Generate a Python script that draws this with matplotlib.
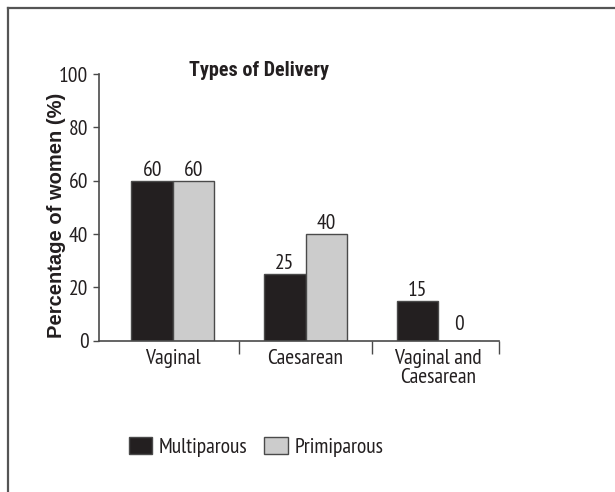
import numpy as np
import matplotlib
matplotlib.use("Agg")
import matplotlib.pyplot as plt
from matplotlib.lines import Line2D

# data
categories = ["Vaginal", "Caesarean", "Vaginal and\nCaesarean"]
multiparous = [60, 25, 15]
primiparous = [60, 40, 0]
series_names = ["Multiparous", "Primiparous"]
yticks = [0, 20, 40, 60, 80, 100]

plt.rcParams["font.family"] = ["PT Sans Narrow", "DejaVu Sans"]
ink = "#231f20"
edge = "#4a4a4a"
fs = 15.5

fig = plt.figure(figsize=(6.15, 4.92), dpi=100)
ax = fig.add_axes([99.5 / 615, 1 - 340.7 / 492, 399.5 / 615, 266.7 / 492])

x = np.arange(len(categories))
w = 0.313
b1 = ax.bar(x - w / 2, multiparous, w, color=ink, edgecolor=edge, linewidth=1)
b2 = ax.bar(x + w / 2, primiparous, w, color="#cccccc", edgecolor=edge, linewidth=1)

# value labels above each bar
for bars, vals in [(b1, multiparous), (b2, primiparous)]:
    for r, v in zip(bars, vals):
        off = 5 if v == 0 else 0.5
        ax.annotate(str(v), (r.get_x() + r.get_width() / 2, v), xytext=(0, off),
                    textcoords="offset points", ha="center", va="bottom",
                    fontsize=fs, color=ink)

xmin, xmax = -0.554, 2.458
ax.set_xlim(xmin, xmax)
ax.set_ylim(0, 100)
ax.set_yticks(yticks)
ax.tick_params(axis="y", length=4, width=1, color=edge, labelsize=fs, pad=4, labelcolor=ink)
ax.set_xticks(x)
ax.set_xticklabels(categories, fontsize=fs, color=ink, linespacing=1.0)
ax.tick_params(axis="x", which="major", length=0, pad=6)
ax.set_xticks([0.5, 1.5, xmax], minor=True)
ax.tick_params(axis="x", which="minor", length=9, width=1, color=edge)

for s in ["top", "right"]:
    ax.spines[s].set_visible(False)
for s in ["left", "bottom"]:
    ax.spines[s].set_color(edge)
    ax.spines[s].set_linewidth(1.2)

fig.text(57 / 615, 1 - 215 / 492, "Percentage of women (%)", rotation=90, ha="center", va="center",
         fontsize=14.5, fontweight="bold", family=["Liberation Sans", "DejaVu Sans"], color=ink)
fig.text(259 / 615, 1 - 71 / 492, "Types of Delivery", ha="center", va="center",
         fontsize=14.5, fontweight="bold", family=["Roboto Condensed", "DejaVu Sans"], color=ink)

fig.legend([b1, b2], series_names, loc="center", bbox_to_anchor=(256 / 615, 1 - 447 / 492),
           ncol=2, frameon=False, fontsize=fs, handlelength=1.1, handleheight=0.85,
           handletextpad=0.3, columnspacing=0.8, labelcolor=ink)

# outer frame (only top and left edges show)
fig.add_artist(Line2D([8 / 615, 1], [1 - 8 / 492, 1 - 8 / 492], color="#555555", lw=1.6))
fig.add_artist(Line2D([8 / 615, 8 / 615], [0, 1 - 8 / 492], color="#555555", lw=1.6))

fig.savefig("out.png", dpi=100)
